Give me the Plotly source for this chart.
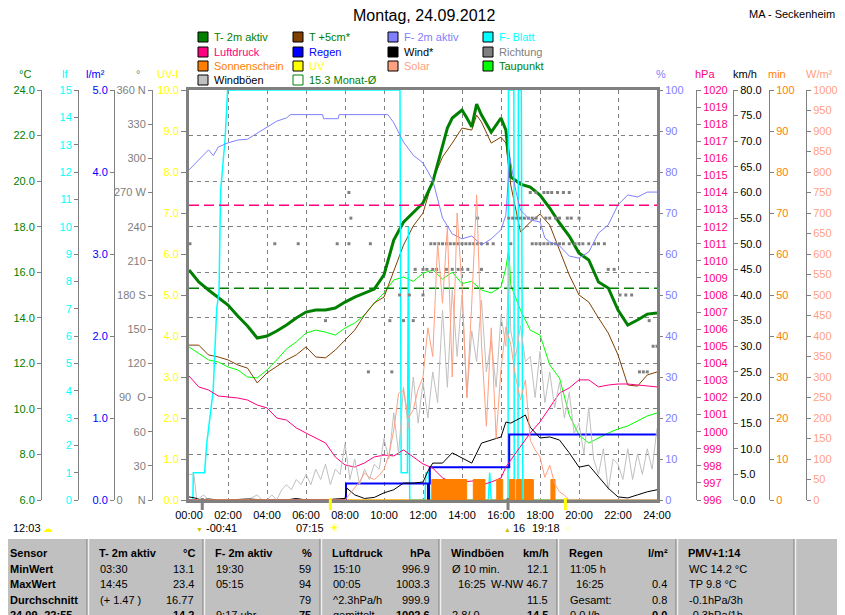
import plotly.graph_objects as go

# --- Data (time in hours) ---
HOURS = list(range(0, 25, 2))
HOUR_LABELS = [f"{h:02d}:00" for h in HOURS]

# T- 2m aktiv (°C)
t2m = [(0, 16.1), (0.5, 15.57), (1, 15.22), (1.5, 14.87), (2, 14.56), (2.5, 14.08), (3, 13.64),
       (3.5, 13.11), (4, 13.2), (4.5, 13.42), (5, 13.68), (5.5, 13.99), (6, 14.25), (6.5, 14.34),
       (7, 14.34), (7.5, 14.43), (8, 14.69), (8.5, 14.91), (9, 15.09), (9.5, 15.26), (10, 15.88),
       (10.5, 17.41), (11, 18.2), (11.5, 18.64), (12, 19.04), (12.5, 19.96), (13, 21.58),
       (13.25, 22.33), (13.5, 22.77), (14, 23.12), (14.25, 22.77), (14.5, 22.38), (14.75, 23.38),
       (15, 22.9), (15.5, 22.15), (16, 22.77), (16.25, 22.24), (16.5, 20.18), (17, 19.87),
       (17.5, 19.74), (18, 19.39), (18.5, 18.82), (19, 18.16), (19.5, 17.59), (20, 16.84),
       (20.5, 16.54), (21, 15.57), (21.5, 15.31), (22, 14.34), (22.5, 13.68), (23, 13.9),
       (23.5, 14.16), (24, 14.21)]

# T +5cm* (°C)
t5cm = [(0, 12.8), (0.5, 12.8), (1, 12.37), (1.5, 12.28), (2, 12.15), (2.5, 11.93), (3, 11.79),
        (3.5, 11.14), (4, 11.58), (4.5, 11.88), (5, 12.15), (5.5, 12.37), (6, 12.72), (6.5, 12.28),
        (7, 12.24), (7.5, 12.58), (8, 13.02), (8.5, 13.46), (9, 14.12), (9.5, 14.65), (10, 14.91),
        (10.5, 16.01), (11, 17.19), (11.5, 18.03), (12, 18.6), (12.5, 20.05), (13, 21.06),
        (13.5, 21.67), (14, 22.33), (14.5, 22.24), (14.75, 22.9), (15, 22.59), (15.5, 21.67),
        (16, 21.93), (16.25, 21.67), (16.5, 19.83), (17, 17.76), (17.5, 18.2), (18, 18.55),
        (18.5, 18.07), (19, 16.97), (19.5, 15.88), (20, 15.0), (20.5, 14.69), (21, 13.99),
        (21.5, 13.33), (22, 12.37), (22.5, 11.05), (23, 11.0), (23.5, 11.49), (24, 11.62)]

# Taupunkt (°C)
dewpoint = [(0, 12.72), (0.5, 12.45), (1, 12.15), (1.5, 12.06), (2, 11.84), (2.5, 11.71), (3, 11.4),
            (3.5, 11.36), (4, 11.71), (4.5, 12.15), (5, 12.63), (5.5, 12.94), (6, 13.33), (6.5, 13.46),
            (7, 13.37), (7.5, 13.24), (8, 13.55), (8.5, 13.77), (9, 14.12), (9.5, 14.65), (10, 15.09),
            (10.5, 15.66), (11, 15.79), (11.5, 15.6), (12, 15.95), (12.5, 16.1), (13, 15.7),
            (13.5, 16.0), (14, 15.5), (14.5, 15.6), (15, 15.22), (15.5, 15.09), (16, 15.35),
            (16.25, 16.18), (16.4, 17.06), (16.5, 15.44), (17, 14.34), (17.5, 13.46), (18, 13.24),
            (18.5, 11.93), (19, 11.36), (19.5, 9.73), (20, 8.85), (20.5, 8.5), (21, 8.72),
            (21.5, 8.94), (22, 9.12), (22.5, 9.25), (23, 9.47), (23.5, 9.69), (24, 9.82)]
MONTH_MEAN_T = 15.3

# F- 2m aktiv (%)
humidity = [(0, 80.5), (0.5, 82.9), (1, 85.4), (1.25, 84.0), (1.5, 86.1), (2, 87.1), (2.5, 87.8),
            (3, 88.0), (3.5, 89.5), (4, 91.0), (4.5, 92.4), (5, 93.2), (5.2, 94.0), (6.85, 94.0),
            (6.9, 93.0), (7.65, 93.0), (7.7, 94.0), (10.2, 94.0), (10.5, 92.0), (11, 87.3),
            (11.5, 84.1), (12, 82.2), (12.5, 78.0), (13, 68.8), (13.5, 64.9), (14, 63.7), (14.5, 64.4),
            (15, 62.2), (15.5, 63.7), (16, 65.9), (16.25, 69.5), (16.45, 83.7), (16.75, 75.6),
            (17, 70.7), (17.5, 68.3), (18, 67.8), (18.25, 63.9), (18.5, 62.9), (19, 62.0),
            (19.5, 59.5), (20, 59.0), (20.5, 60.5), (21, 65.1), (21.5, 67.1), (22, 72.0),
            (22.5, 74.4), (23, 73.9), (23.5, 75.1), (24, 75.1)]

# F- Blatt (lf)
leaf = [(0, 0), (0.2, 0), (0.22, 1), (0.8, 1), (0.9, 2), (1.16, 3.4), (1.24, 4), (1.42, 7),
        (1.54, 7.6), (1.62, 11.3), (1.85, 13.2), (1.98, 15), (10.82, 15), (10.88, 1), (11.2, 1),
        (11.25, 10), (11.32, 0), (12.1, 0), (12.15, 1), (12.3, 1), (12.35, 0), (15.35, 0),
        (15.42, 1), (15.5, 0), (16.36, 0), (16.38, 15), (16.66, 15), (16.68, 0), (16.87, 0),
        (16.89, 15), (17.04, 15), (17.12, 0), (24, 0)]

# Luftdruck (hPa)
pressure = [(0, 1003.26), (0.5, 1002.62), (1, 1002.44), (1.5, 1002.09), (2, 1002.03), (2.5, 1001.97),
            (3, 1001.85), (3.5, 1001.56), (4, 1001.39), (4.5, 1000.8), (5, 1000.68), (5.5, 1000.22),
            (6, 999.92), (6.5, 999.63), (7, 999.34), (7.5, 998.52), (8, 998.05), (8.5, 997.93),
            (9, 998.17), (9.5, 998.52), (10, 998.63), (10.5, 998.58), (11, 998.93), (11.5, 998.52),
            (12, 998.11), (12.5, 997.87), (13, 997.29), (13.5, 997.05), (14, 997.05), (14.5, 997.11),
            (15, 997.17), (15.17, 996.94), (15.5, 997.05), (16, 997.29), (16.25, 997.93),
            (16.5, 998.34), (17, 999.1), (17.5, 999.92), (18, 1000.57), (18.5, 1001.45),
            (19, 1002.26), (19.5, 1002.56), (20, 1003.03), (20.5, 1003.03), (21, 1002.62),
            (21.5, 1002.73), (22, 1002.79), (22.5, 1002.79), (23, 1002.73), (23.5, 1002.67),
            (24, 1002.62)]
STD_PRESSURE = 1013.25

# Wind* (km/h)
wind = [(0, 0.6), (0.3, 0.4), (0.6, 0.0), (1, 0.2), (1.5, 0), (2, 0), (3, 0.2), (4, 0), (5, 0),
        (5.5, 0.3), (6, 0), (7, 0), (7.5, 0.2), (8.0, 0.3), (8.1, 2.3), (8.5, 1.0), (9, 0.3),
        (9.5, 0.5), (10, 1.4), (10.5, 2.0), (11, 3.3), (11.5, 3.3), (12, 3.5), (12.3, 6.0),
        (12.5, 7.2), (13, 7.2), (13.5, 9.2), (14, 8.2), (14.5, 7.2), (15, 11.1), (15.5, 11.7),
        (16, 12.3), (16.25, 15.2), (16.5, 15.0), (17, 16.0), (17.25, 16.6), (17.5, 14.2),
        (18, 12.1), (18.5, 12.3), (19, 11.7), (19.5, 9.2), (20, 6.4), (20.5, 6.8), (21, 4.5),
        (21.5, 2.3), (22, 0.6), (22.5, 0.4), (23, 1.0), (23.5, 1.6), (24, 2.0)]

# Windböen (km/h)
gusts = [(0, 5), (0.25, 5), (0.4, 0), (0.75, 1), (1, 0), (1.5, 0), (2, 0), (2.5, 0), (3, 0), (3.5, 1),
         (3.75, 0), (4, 0), (4.25, 1), (4.5, 0), (4.75, 2), (5, 3), (5.25, 2), (5.5, 4), (5.75, 3),
         (6, 5), (6.25, 3), (6.5, 6), (6.75, 4), (7, 7), (7.25, 3), (7.5, 6), (7.75, 5), (8, 11),
         (8.25, 4), (8.5, 8), (8.75, 3), (9, 6), (9.25, 4), (9.5, 7), (9.75, 6), (10, 12),
         (10.25, 8), (10.5, 17), (10.75, 9), (11, 22), (11.25, 14), (11.5, 24), (11.75, 15),
         (12, 23), (12.25, 16), (12.5, 25), (12.75, 19), (13, 37), (13.25, 22), (13.5, 41),
         (13.75, 28), (14, 40), (14.25, 20), (14.5, 33), (14.75, 27), (15, 39), (15.25, 25),
         (15.5, 31), (15.75, 22), (16, 36), (16.25, 30), (16.42, 46.7), (16.5, 33), (16.75, 28),
         (17, 34), (17.25, 27), (17.5, 28), (17.75, 20), (18, 29), (18.25, 19), (18.5, 25),
         (18.75, 18), (19, 23), (19.25, 16), (19.5, 21), (19.75, 13), (20, 15), (20.25, 9),
         (20.5, 18), (20.75, 8), (21, 5), (21.25, 10), (21.5, 2), (21.75, 8), (22, 7), (22.25, 4),
         (22.5, 10), (22.75, 4), (23, 9), (23.25, 5), (23.5, 10), (23.75, 6), (24, 14)]

# Richtung (°)
direction = [(0.05, 225), (4.4, 225), (5.6, 225), (7.0, 157.5), (7.6, 225), (8.2, 225), (8.2, 270),
             (8.3, 247.5), (9.2, 112.5), (9.3, 225), (10.3, 157.5), (10.4, 112.5), (10.8, 180),
             (11.0, 157.5), (11.3, 180), (11.5, 157.5), (11.6, 202.5), (12.0, 180), (12.0, 202.5),
             (12.2, 202.5), (12.4, 225), (12.5, 202.5), (12.6, 225), (12.7, 202.5), (12.8, 225),
             (13.0, 225), (13.2, 202.5), (13.2, 225), (13.4, 225), (13.5, 202.5), (13.6, 225),
             (13.8, 202.5), (13.8, 225), (14.0, 225), (14.0, 202.5), (14.2, 225), (14.3, 202.5),
             (14.4, 225), (14.6, 225), (14.8, 247.5), (14.8, 225), (15.0, 202.5), (15.0, 225),
             (15.3, 225), (15.6, 225), (16.4, 247.5), (16.5, 225), (16.6, 247.5), (16.8, 247.5),
             (17.0, 247.5), (17.2, 247.5), (17.4, 247.5), (17.5, 270), (17.6, 225), (17.6, 247.5),
             (17.8, 270), (17.8, 225), (17.8, 247.5), (18.0, 225), (18.2, 270), (18.2, 225),
             (18.3, 247.5), (18.4, 270), (18.4, 225), (18.5, 247.5), (18.6, 270), (18.6, 225),
             (18.8, 247.5), (18.8, 225), (18.9, 270), (19.0, 247.5), (19.0, 225), (19.2, 270),
             (19.2, 225), (19.4, 247.5), (19.5, 270), (19.5, 225), (19.6, 247.5), (19.8, 225),
             (20.0, 247.5), (20.0, 225), (20.2, 225), (20.5, 225), (20.8, 225), (21.0, 225),
             (21.3, 225), (21.5, 202.5), (21.8, 202.5), (22.1, 180), (22.4, 180), (22.7, 180),
             (23.1, 112.5), (23.3, 112.5), (23.5, 112.5), (23.6, 157.5), (23.8, 135), (24.0, 135)]

# Solar (W/m²)
solar = [(0, 0), (8.0, 0), (8.25, 15), (8.5, 30), (8.75, 45), (9, 66), (9.25, 55), (9.5, 50),
         (9.75, 60), (10, 75), (10.25, 110), (10.5, 170), (10.75, 260), (11, 268), (11.25, 200),
         (11.5, 220), (11.75, 270), (12, 300), (12.25, 420), (12.5, 350), (12.75, 627), (13, 480),
         (13.25, 666), (13.5, 300), (13.75, 700), (14, 520), (14.25, 250), (14.5, 480),
         (14.75, 744), (15, 380), (15.25, 180), (15.5, 420), (15.75, 150), (16, 320),
         (16.25, 422), (16.5, 380), (16.75, 300), (17, 244), (17.25, 293), (17.5, 146),
         (17.75, 122), (18, 105), (18.25, 55), (18.5, 85), (18.75, 40), (19, 20), (19.25, 12),
         (19.5, 0), (24, 0)]

# Sonnenschein: sunny periods (start, end), minutes of sun per 5-min slot
sun_periods = [(12.45, 14.24), (14.58, 15.18), (15.78, 16.09), (16.43, 16.72), (16.80, 17.06),
               (17.18, 17.66), (18.56, 18.77)]
SUN_MIN = 5

# Regen: cumulative (l/m²) and interval amounts
rain_t = [0, 8.05, 12.35, 16.42, 24]
rain_total = [0, 0.2, 0.4, 0.8, 0.8]
rain_burst_t = [8.05, 12.3]
rain_burst = [0.1, 0.2]

# UV index (stayed at 0)
uv_t = [7.25, 12.0, 19.3]
uv = [0.0, 0.0, 0.0]

# sun / moon events (hours)
SUNRISE, SUNSET = 7.25, 19.3
MOONSET, MOONRISE = 0.68, 16.36

# summary table
table_cols = [
    ("T- 2m aktiv", "°C", ["03:30", "14:45", "(+ 1.47 )", ""], ["13.1", "23.4", "16.77", "<b>14.2</b>"]),
    ("F- 2m aktiv", "%", ["19:30", "05:15", "", "9:17 uhr"], ["59", "94", "79", "<b>75</b>"]),
    ("Luftdruck", "hPa", ["15:10", "00:05", "^2.3hPa/h", "gemittelt"], ["996.9", "1003.3", "999.9", "<b>1002.6</b>"]),
    ("Windböen", "km/h", ["Ø 10 min.", "  16:25", "", "2.8/ 0"], ["12.1", "W-NW 46.7", "11.5", "<b>14.5</b>"]),
    ("Regen", "l/m²", ["11:05 h", "  16:25", "Gesamt:", "0.0 l/h"], ["", "0.4", "0.8", "<b>0.0</b>"]),
    ("PMV+1:14", "", ["WC 14.2 °C", "TP 9.8 °C", "-0.1hPa/3h", "-0.3hPa/1h"], ["", "", "", ""]),
]
row_labels = ["MinWert", "MaxWert", "Durchschnitt", "24.09.-22:55"]

# --- Layout helpers (window pixel -> paper); the page body adds an 8px offset ---
OFF = 8
W, H = 845 - OFF, 615 - OFF
FONT = "Liberation Sans"


def px(x):
    return (x - OFF) / W


def py(y):
    return 1 - (y - OFF) / H


X0, X1, Y0, Y1 = 189, 657, 500, 90
GRAY = "#808080"

fig = go.Figure()


def add_line(data, color, width, yaxis, **kw):
    fig.add_trace(go.Scatter(x=[p[0] for p in data], y=[p[1] for p in data], mode="lines",
                             line=dict(color=color, width=width), yaxis=yaxis,
                             hoverinfo="skip", showlegend=False, **kw))


# Sonnenschein as step area
sx, sy = [0], [0]
for s, e in sun_periods:
    sx += [s, e]
    sy += [SUN_MIN, 0]
sx.append(24)
sy.append(0)
add_line(list(zip(sx, sy)), "#ff8000", 1, "y9", line_shape="hv", fill="tozeroy", fillcolor="#ff8000")

add_line(gusts, "#c0c0c0", 1, "y8")
add_line(solar, "#ffa080", 1, "y10")
fig.add_trace(go.Scatter(x=[p[0] for p in direction], y=[p[1] for p in direction], mode="markers",
                         marker=dict(symbol="square", size=3, color=GRAY), yaxis="y5",
                         hoverinfo="skip", showlegend=False))
add_line(wind, "#000000", 1, "y8")
add_line(pressure, "#ff0080", 1, "y7")
add_line([(0, STD_PRESSURE), (24, STD_PRESSURE)], "#ff0080", 1.5, "y7")
fig.data[-1].line.dash = "10px,5px"
add_line(humidity, "#8080ff", 1, "y6")
add_line(dewpoint, "#00ff00", 1, "y2")
add_line(t5cm, "#804000", 1, "y2")
add_line(list(zip(uv_t, uv)), "#ffff00", 1, "y")
fig.add_trace(go.Bar(x=rain_burst_t, y=rain_burst, width=0.14, marker_color="#0000c0",
                     marker_line_width=0, yaxis="y4", hoverinfo="skip", showlegend=False))
add_line(list(zip(rain_t, rain_total)), "#0000ff", 2, "y4", line_shape="hv")
add_line(leaf, "#00ffff", 1.5, "y3")
add_line([(0, MONTH_MEAN_T), (24, MONTH_MEAN_T)], "#008000", 1.5, "y2")
fig.data[-1].line.dash = "10px,5px"
add_line(t2m, "#008000", 3, "y2")


def free_axis(rng, pos, side, color, tickvals, ticktext=None, fmt=None, grid=False):
    d = dict(range=rng, anchor="free", overlaying="y", position=pos, side=side,
             showline=True, linecolor=GRAY, linewidth=1, ticks="outside", ticklen=4,
             tickcolor=GRAY, tickvals=tickvals, tickfont=dict(color=color, size=11, family=FONT),
             zeroline=False, showgrid=grid, fixedrange=True, automargin=False)
    if ticktext is not None:
        d["ticktext"] = ticktext
    if fmt:
        d["tickformat"] = fmt
    if grid:
        d.update(gridcolor=GRAY, griddash="4px,4px", gridwidth=1)
    return d


nb = "\u00a0"
dir_vals = list(range(0, 361, 30))
dir_text = ["0" + nb * 5 + "N", "30", "60", "90" + nb * 2 + "O", "120", "150", "180 S", "210", "240",
            "270 W", "300", "330", "360 N"]

fig.update_layout(
    width=W, height=H, margin=dict(l=0, r=0, t=0, b=0, pad=0), autosize=False,
    paper_bgcolor="white", plot_bgcolor="white", bargap=0,
    font=dict(family=FONT, size=11, color="black"),
    xaxis=dict(domain=[px(X0), px(X1)], range=[0, 24], tickvals=HOURS, ticktext=HOUR_LABELS,
               showgrid=True, gridcolor=GRAY, griddash="4px,4px", gridwidth=1,
               showline=True, mirror=True, linecolor=GRAY, linewidth=3,
               ticks="outside", ticklen=3, tickcolor="rgba(0,0,0,0)", automargin=False,
               tickfont=dict(size=11, color="black"), zeroline=False, fixedrange=True),
    yaxis=dict(domain=[py(Y0), py(Y1)], range=[0, 10], tickvals=list(range(11)), tickformat=".1f",
               tickfont=dict(color="#ffff00", size=11), showline=True, mirror=True,
               linecolor=GRAY, linewidth=3, ticks="outside", ticklen=5, tickcolor=GRAY,
               showgrid=False, zeroline=False, fixedrange=True, automargin=False),
    yaxis2=free_axis([6, 24], px(41), "left", "#008000", list(range(6, 25, 2)), fmt=".1f", grid=True),
    yaxis3=free_axis([0, 15], px(78), "left", "#00ffff", list(range(16))),
    yaxis4=free_axis([0, 5], px(114), "left", "#0000ff", list(range(6)), fmt=".1f"),
    yaxis5=free_axis([0, 360], px(152), "left", GRAY, dir_vals, ticktext=dir_text),
    yaxis6=dict(range=[0, 100], anchor="x", overlaying="y", side="right", showline=False,
                ticks="outside", ticklen=5, tickcolor=GRAY, tickvals=list(range(0, 101, 10)),
                tickfont=dict(color="#8080ff", size=11), showgrid=False, zeroline=False,
                fixedrange=True, automargin=False),
    yaxis7=free_axis([996, 1020], px(696), "right", "#ff0080", list(range(996, 1021))),
    yaxis8=free_axis([0, 80], px(733), "right", "#000000", list(range(0, 81, 5)), fmt=".1f"),
    yaxis9=free_axis([0, 100], px(769), "right", "#ff8000", list(range(0, 101, 10))),
    yaxis10=free_axis([0, 1000], px(806), "right", "#ffa080", list(range(0, 1001, 50))),
)

ann = []
shapes = []


def text(t, x, y, color="black", size=11, xanchor="left"):
    ann.append(dict(text=t, x=px(x), y=py(y), xref="paper", yref="paper", showarrow=False,
                    xanchor=xanchor, yanchor="middle", font=dict(color=color, size=size, family=FONT)))


# title
text("Montag, 24.09.2012", 424, 16, size=16, xanchor="center")
text("MA - Seckenheim", 837, 14, xanchor="right")

# axis titles
for t, x, c in [("°C", 25, "#008000"), ("lf", 65, "#00ffff"), ("l/m²", 95, "#0000ff"),
                ("°", 138, GRAY), ("UV-I", 167, "#ffff00"), ("%", 661, "#8080ff"),
                ("hPa", 705, "#ff0080"), ("km/h", 745, "#000000"), ("min", 777, "#ff8000"),
                ("W/m²", 819, "#ffa080")]:
    text(t, x, 74, color=c, xanchor="center")

# legend
legend = [
    [("T- 2m aktiv", "#008000", "#008000"), ("T +5cm*", "#804000", "#008000"),
     ("F- 2m aktiv", "#8080ff", "#8080ff"), ("F- Blatt", "#00ffff", "#00ffff")],
    [("Luftdruck", "#ff0080", "#ff0080"), ("Regen", "#0000ff", "#0000ff"),
     ("Wind*", "#000000", "#000000"), ("Richtung", GRAY, GRAY)],
    [("Sonnenschein", "#ff8000", "#ff8000"), ("UV", "#ffff00", "#ffff00"),
     ("Solar", "#ffa080", "#ffa080"), ("Taupunkt", "#00ff00", "#008000")],
    [("Windböen", "#c0c0c0", "#000000"), (f"{MONTH_MEAN_T:.1f} Monat-Ø", None, "#008000")],
]
col_x = [198, 293, 388, 483]
row_y = [37, 52, 66, 80]
for r, row in enumerate(legend):
    for c, (label, sq, tc) in enumerate(row):
        x, y = col_x[c], row_y[r]
        if sq is None:
            shapes.append(dict(type="rect", xref="paper", yref="paper", x0=px(x), x1=px(x + 10),
                               y0=py(y + 5), y1=py(y - 5), line=dict(color="#008000", width=1)))
        else:
            shapes.append(dict(type="rect", xref="paper", yref="paper", x0=px(x), x1=px(x + 10),
                               y0=py(y + 5), y1=py(y - 5), fillcolor=sq,
                               line=dict(color="black", width=1)))
        text(label, x + 14, y, color=tc)

# sun / moon markers below the time axis
for t, c in [(SUNRISE, "#ffff00"), (SUNSET, "#ffff00"), (MOONSET, GRAY), (MOONRISE, GRAY)]:
    shapes.append(dict(type="line", xref="x", yref="paper", x0=t, x1=t, y0=py(510), y1=py(498),
                       line=dict(color=c, width=3)))
text("12:03", 11, 528)
text("☁", 41, 528, color="#ffff00", size=10)
text("▼", 194, 529, color="#d0c000", size=7)
text("-00:41", 204, 528)
text("07:15", 294, 528)
text("☀", 327, 528, color="#ffff00", size=12)
text("▲", 502, 529, color="#d0c000", size=7)
text("16", 511, 528)
text("19:18", 530, 528)
text("○", 564, 528, color="#ffff00", size=8)

# summary table
shapes.append(dict(type="rect", xref="paper", yref="paper", x0=px(2), x1=px(845), y0=py(625),
                   y1=py(539), fillcolor="#c0c0c0", line=dict(width=0), layer="below"))
edges = [2, 88, 204, 321, 440, 558, 677, 795, 845]
for e in edges[1:-1]:
    shapes.append(dict(type="line", xref="paper", yref="paper", x0=px(e - 1), x1=px(e - 1),
                       y0=py(625), y1=py(539), line=dict(color=GRAY, width=1)))
    shapes.append(dict(type="line", xref="paper", yref="paper", x0=px(e + 0.5), x1=px(e + 0.5),
                       y0=py(625), y1=py(539), line=dict(color="#f0f0f0", width=1.5)))
ROW_Y = [553, 568.5, 584, 599.5, 615]
text("<b>Sensor</b>", 8, ROW_Y[0])
for i, lab in enumerate(row_labels):
    text(f"<b>{lab}</b>", 8, ROW_Y[i + 1])
for k, (head, unit, lefts, rights) in enumerate(table_cols):
    e0, e1 = edges[k + 1], edges[k + 2]
    text(f"<b>{head}</b>", e0 + 9, ROW_Y[0])
    if unit:
        text(f"<b>{unit}</b>", e1 - 7, ROW_Y[0], xanchor="right")
    for i in range(4):
        if lefts[i]:
            text(lefts[i].replace(" ", nb), e0 + 10, ROW_Y[i + 1])
        if rights[i]:
            text(rights[i], e1 - 8, ROW_Y[i + 1], xanchor="right")

fig.update_layout(annotations=ann, shapes=shapes)
fig.write_html("out.html")
